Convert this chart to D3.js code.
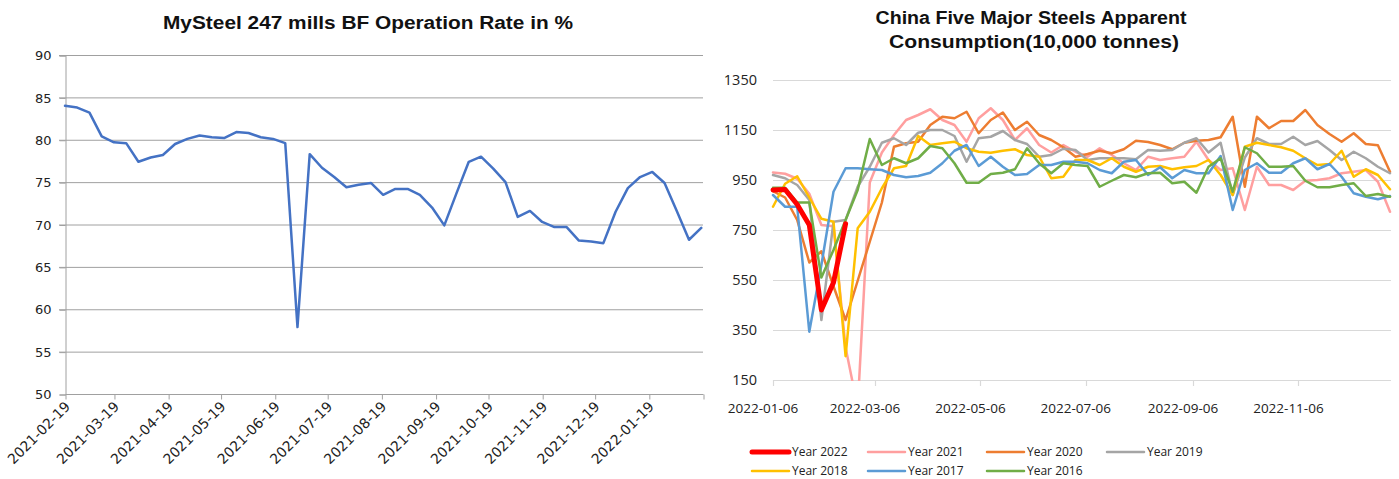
<!DOCTYPE html>
<html>
<head>
<meta charset="utf-8">
<script src="https://cdn.jsdelivr.net/npm/d3@7"></script>
<style>
  body { margin: 0; background: #fff; }
  svg { display: block; }
</style>
</head>
<body>
<svg id="chart" width="1399" height="479"></svg>
<script>
// ---------- Left panel: weekly blast-furnace operation rate (%) ----------
const rateFirstWeek = "2021-02-19";
const rateValues = [
  84.0, 83.8, 83.2, 80.4, 79.7, 79.6, 77.4, 77.9, 78.2, 79.5,
  80.1, 80.5, 80.3, 80.2, 80.9, 80.8, 80.3, 80.1, 79.6, 57.9,
  78.3, 76.7, 75.6, 74.4, 74.7, 74.9, 73.5, 74.2, 74.2, 73.5,
  72.0, 69.9, 73.7, 77.4, 78.0, 76.6, 75.0, 70.9, 71.6, 70.3,
  69.7, 69.7, 68.1, 68.0, 67.8, 71.5, 74.3, 75.6, 76.2, 74.9,
  71.6, 68.2, 69.6
];
const rateTickDates = [
  "2021-02-19", "2021-03-19", "2021-04-19", "2021-05-19", "2021-06-19",
  "2021-07-19", "2021-08-19", "2021-09-19", "2021-10-19", "2021-11-19",
  "2021-12-19", "2022-01-19", "2022-02-19"
];
const rateTickLabels = rateTickDates.slice(0, 12);
const rateYTicks = [50, 55, 60, 65, 70, 75, 80, 85, 90];

// ---------- Right panel: weekly apparent consumption (10,000 t) ----------
const consFirstWeek = "2022-01-06";
const seriesNames = ["Year 2022", "Year 2021", "Year 2020", "Year 2019", "Year 2018", "Year 2017", "Year 2016"];
const seriesColors = ["#ff0000", "#ff9f9f", "#ed7d31", "#a5a5a5", "#ffc000", "#5b9bd5", "#70ad47"];
const y2022 = [910, 912, 852, 770, 430, 540, 775];
const y2021 = [
  980, 975, 955, 895, 770, 765, 280, 40, 940, 1060,
  1130, 1190, 1210, 1233, 1190, 1170, 1103, 1197, 1237, 1190,
  1110, 1157, 1090, 1060, 1090, 1063, 1043, 1077, 1050, 1017,
  990, 1043, 1030, 1037, 1043, 1103, 1030, 990, 997, 830,
  1003, 930, 930, 910, 947, 950, 957, 977, 983, 990,
  943, 823
];
const y2020 = [
  905, 880, 790, 620, 665, 525, 390, 547, 703, 860,
  1083, 1097, 1103, 1170, 1203, 1197, 1223, 1137, 1190, 1220,
  1150, 1183, 1130, 1110, 1081, 1043, 1054, 1067, 1057, 1073,
  1107, 1102, 1090, 1073, 1099, 1107, 1110, 1121, 1203, 923,
  1203, 1157, 1186, 1186, 1230, 1170, 1134, 1103, 1137, 1094,
  1089, 983
];
const y2019 = [
  970, 957, 930, 870, 390, 783, 790, 923, 1003, 1099,
  1117, 1090, 1139, 1150, 1150, 1126, 1023, 1117, 1123, 1146,
  1110, 1094, 1043, 1050, 1075, 1070, 1030, 1037, 1037, 1037,
  1033, 1070, 1067, 1070, 1099, 1117, 1060, 1099, 890, 1040,
  1117, 1094, 1094, 1123, 1090, 1106, 1070, 1030, 1063, 1037,
  1003, 977
];
const y2018 = [
  843, 935, 965, 880, 795, 783, 245, 757, 823, 917,
  997, 1006, 1126, 1090, 1097, 1103, 1077, 1063, 1059, 1067,
  1073, 1050, 1043, 957, 963, 1030, 1030, 1010, 1037, 1003,
  983, 1003, 1006, 993, 1001, 1006, 1030, 970, 890, 1083,
  1099, 1090, 1081, 1067, 1037, 1010, 1014, 1067, 963, 993,
  970, 913
];
const y2017 = [
  890, 843, 843, 343, 610, 903, 997, 997, 993, 990,
  970, 961, 966, 979, 1017, 1067, 1090, 1006, 1043, 1003,
  970, 974, 1010, 1010, 1023, 1023, 1017, 990, 977, 1023,
  1030, 970, 1001, 957, 990, 977, 977, 1046, 830, 990,
  1017, 979, 979, 1017, 1037, 993, 1014, 963, 897, 883,
  873, 886
];
const y2016 = [
  919, 919, 860, 860, 560, 670, 790, 910, 1114, 1010,
  1037, 1017, 1037, 1086, 1077, 1017, 939, 939, 974, 979,
  993, 1077, 1017, 977, 1017, 1010, 1006, 923, 947, 970,
  961, 977, 979, 937, 943, 899, 1003, 1037, 903, 1081,
  1057, 1003, 1003, 1006, 947, 921, 921, 930, 937, 886,
  894, 883
];
const consTickLabels = ["2022-01-06", "2022-03-06", "2022-05-06", "2022-07-06", "2022-09-06", "2022-11-06"];
const consYTicks = [150, 350, 550, 750, 950, 1150, 1350];

// ---------- helpers ----------
const parse = d3.timeParse("%Y-%m-%d");
const weekly = (start, n) => d3.range(n).map(i => d3.timeDay.offset(parse(start), 7 * i));

const svg = d3.select("#chart");

// ================= Left panel =================
{
  const dates = weekly(rateFirstWeek, rateValues.length);
  const x = d3.scaleTime()
    .domain([parse(rateTickDates[0]), parse(rateTickDates[rateTickDates.length - 1])])
    .range([65, 703]);
  const y = d3.scaleLinear().domain([50, 90]).range([394, 55]);

  const g = svg.append("g");

  g.append("text")
    .attr("x", 368).attr("y", 29)
    .attr("text-anchor", "middle")
    .attr("textLength", 410).attr("lengthAdjust", "spacingAndGlyphs")
    .style("font-family", "'Liberation Sans Narrow', 'Liberation Sans', Arial, sans-serif")
    .style("font-weight", "bold").style("font-size", "18px").style("fill", "#111")
    .text("MySteel 247 mills BF Operation Rate in %");

  // horizontal gridlines with left tick marks
  g.append("g").selectAll("line").data(rateYTicks.filter(v => v !== 50)).join("line")
    .attr("x1", 59).attr("x2", 703)
    .attr("y1", d => y(d) + 0.5).attr("y2", d => y(d) + 0.5)
    .attr("stroke", "#a0a0a0").attr("stroke-width", 1);

  // y axis
  const yAxis = d3.axisLeft(y).tickValues(rateYTicks).tickSize(6).tickPadding(8);
  const ya = g.append("g").attr("transform", "translate(65.5,0.5)").call(yAxis);
  ya.select(".domain").attr("stroke", "#a0a0a0");
  ya.selectAll(".tick line").attr("stroke", "#a0a0a0");
  ya.selectAll(".tick text")
    .style("font-family", "'DejaVu Sans', Verdana, sans-serif").style("font-size", "13px").style("fill", "#222");

  // x axis
  const xAxis = d3.axisBottom(x).tickValues(rateTickDates.map(parse)).tickSize(5)
    .tickFormat((d, i) => rateTickLabels[i] || "");
  const xa = g.append("g").attr("transform", "translate(0.5,394.5)").call(xAxis);
  xa.select(".domain").attr("stroke", "#a0a0a0").attr("d", "M" + x.range()[0] + ",0H" + x.range()[1]);
  xa.selectAll(".tick line").attr("stroke", "#a0a0a0");
  xa.selectAll(".tick text")
    .style("font-family", "'DejaVu Sans', Verdana, sans-serif").style("font-size", "14px").style("fill", "#222")
    .attr("text-anchor", "end")
    .attr("dy", null).attr("y", 0)
    .attr("transform", "translate(5,13) rotate(-45)");

  const line = d3.line().x((d, i) => x(dates[i])).y(d => y(d));
  g.append("path").datum(rateValues)
    .attr("d", line).attr("fill", "none")
    .attr("stroke", "#4472c4").attr("stroke-width", 2.5)
    .attr("stroke-linejoin", "round").attr("stroke-linecap", "round");
}

// ================= Right panel =================
{
  const seriesData = [y2022, y2021, y2020, y2019, y2018, y2017, y2016];
  const dates = weekly(consFirstWeek, 52);
  const x = d3.scaleTime().domain([dates[0], dates[dates.length - 1]]).range([773, 1390]);
  const y = d3.scaleLinear().domain([150, 1350]).range([380, 80]);

  const g = svg.append("g");
  const titleFont = "'Liberation Sans Narrow', 'Liberation Sans', Arial, sans-serif";
  g.append("text")
    .attr("x", 1031).attr("y", 24).attr("text-anchor", "middle")
    .attr("textLength", 311).attr("lengthAdjust", "spacingAndGlyphs")
    .style("font-family", titleFont).style("font-weight", "bold").style("font-size", "18px").style("fill", "#111")
    .text("China Five Major Steels Apparent");
  g.append("text")
    .attr("x", 1034).attr("y", 48).attr("text-anchor", "middle")
    .attr("textLength", 290).attr("lengthAdjust", "spacingAndGlyphs")
    .style("font-family", titleFont).style("font-weight", "bold").style("font-size", "18px").style("fill", "#111")
    .text("Consumption(10,000 tonnes)");

  // gridlines
  g.append("g").selectAll("line").data(consYTicks).join("line")
    .attr("x1", 773).attr("x2", 1391)
    .attr("y1", d => y(d) + 0.5).attr("y2", d => y(d) + 0.5)
    .attr("stroke", "#d9d9d9").attr("stroke-width", 1.2);

  // y labels
  g.append("g").selectAll("text").data(consYTicks).join("text")
    .attr("x", 757).attr("y", d => y(d)).attr("dy", "0.36em")
    .attr("text-anchor", "end")
    .style("font-family", "'Open Sans', 'Noto Sans', sans-serif").style("font-size", "14.5px").style("fill", "#222")
    .text(d => d);

  // x ticks + labels
  const tickDates = consTickLabels.map(parse);
  g.append("g").selectAll("line").data(tickDates).join("line")
    .attr("x1", d => Math.round(x(d)) + 0.5).attr("x2", d => Math.round(x(d)) + 0.5)
    .attr("y1", 380).attr("y2", 386)
    .attr("stroke", "#d9d9d9").attr("stroke-width", 1.2);
  g.append("g").selectAll("text").data(tickDates).join("text")
    .attr("x", d => x(d) - 10).attr("y", 413)
    .attr("text-anchor", "middle")
    .style("font-family", "'Open Sans', 'Noto Sans', sans-serif").style("font-size", "13.5px").style("fill", "#222")
    .text((d, i) => consTickLabels[i]);

  // plot-area clip
  svg.append("defs").append("clipPath").attr("id", "consClip")
    .append("rect").attr("x", 770).attr("y", 70).attr("width", 625).attr("height", 311);

  const line = d3.line().x((d, i) => x(dates[i])).y(d => y(d));
  const plot = g.append("g").attr("clip-path", "url(#consClip)");
  // older years first, current year drawn last so it sits on top
  const drawOrder = [1, 2, 3, 4, 5, 6, 0];
  drawOrder.forEach(k => {
    plot.append("path").datum(seriesData[k])
      .attr("d", line).attr("fill", "none")
      .attr("stroke", seriesColors[k])
      .attr("stroke-width", k === 0 ? 5 : 2.5)
      .attr("stroke-linejoin", "round").attr("stroke-linecap", "round");
  });

  // legend: two rows, four columns
  const legendCols = [752, 868, 987, 1107];
  const legendRows = [452, 471];
  const lg = g.append("g");
  seriesNames.forEach((name, k) => {
    const cx = legendCols[k % 4], cy = legendRows[Math.floor(k / 4)];
    lg.append("line")
      .attr("x1", cx).attr("x2", cx + 37).attr("y1", cy).attr("y2", cy)
      .attr("stroke", seriesColors[k]).attr("stroke-width", k === 0 ? 5 : 2.5)
      .attr("stroke-linecap", "round");
    lg.append("text")
      .attr("x", cx + 40).attr("y", cy).attr("dy", "0.36em")
      .style("font-family", "'Open Sans', 'Noto Sans', sans-serif").style("font-size", "12px").style("fill", "#222")
      .text(name);
  });
}
</script>
</body>
</html>
